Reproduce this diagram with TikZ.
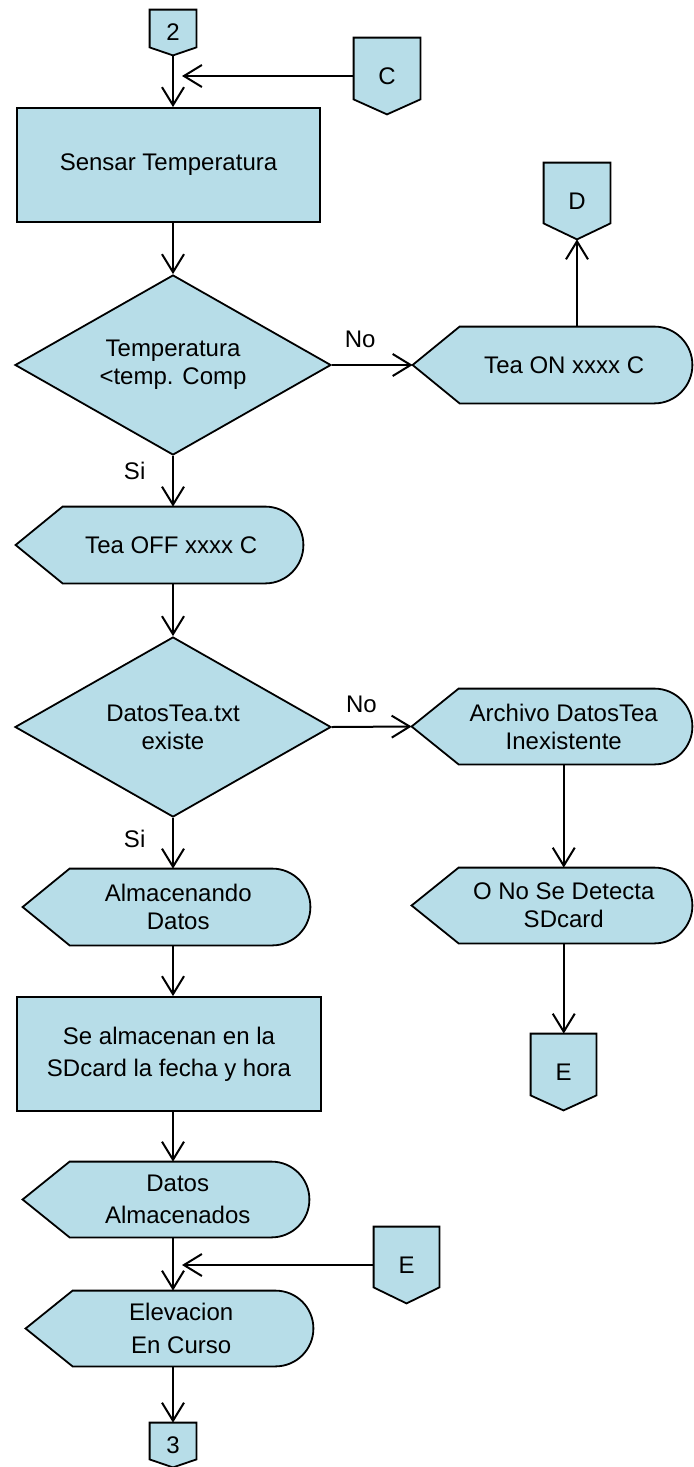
\documentclass[tikz,border=0pt]{standalone}
\usepackage{fontspec}
\setmainfont{Liberation Sans}
\usetikzlibrary{positioning, shapes.geometric, arrows.meta, backgrounds}
\definecolor{flowblue}{RGB}{183,221,232}
\tikzset{shapeline/.style={draw=black, line width=0.9pt, fill=flowblue}}
\tikzset{procbox/.style={shapeline, rectangle, align=center, inner sep=0pt}}
\tikzset{decide/.style={shapeline, diamond, aspect=1.75, align=center, inner sep=0pt, minimum width=158pt, minimum height=90pt}}
\tikzset{disp/.style={rectangle, align=center, inner sep=0pt, minimum width=131.75pt, minimum height=38pt}}
\tikzset{offpage/.style={rectangle, inner sep=0pt, minimum width=33pt, minimum height=38pt}}
\tikzset{arr/.style={draw, -{Straight Barb[length=9pt, width=11pt]}, line width=1pt}}
% outline of a display symbol round a node
\newcommand{\dispoutline}[1]{%
  \filldraw[shapeline] ([xshift=-11.75pt]#1.west) coordinate (#1-tip)
    -- ([xshift=11.75pt]#1.north west) -- ([xshift=-19pt]#1.north east)
    .. controls ([xshift=-8.5pt]#1.north east) and ([yshift=10.5pt]#1.east) .. (#1.east)
    .. controls ([yshift=-10.5pt]#1.east) and ([xshift=-8.5pt]#1.south east) .. ([xshift=-19pt]#1.south east)
    -- ([xshift=11.75pt]#1.south west) -- cycle;}
% outline of an off-page connector round a node
\newcommand{\offoutline}[2]{%
  \filldraw[shapeline] (#1.north west) -- (#1.north east) -- ([yshift=#2]#1.south east)
    -- (#1.south) -- ([yshift=#2]#1.south west) -- cycle;}

\begin{document}
\begin{tikzpicture}[x=0.5pt, y=-0.5pt, font=\fontsize{12}{14}\selectfont]
	\useasboundingbox (0,0) rectangle (694,1467);
	% connectors
	\node[offpage, minimum width=23pt, minimum height=22.5pt] (in2) at (173,32.5) {2};
	\node[offpage] (inC) at (387,76) {C};
	\node[offpage] (outD) at (577,201) {D};
	\node[offpage, minimum width=32.5pt] (outE) at (563.5,1072) {E};
	\node[offpage, minimum width=32.5pt] (inE) at (406.5,1265) {E};
	\node[offpage, minimum width=23pt, minimum height=22pt] (out3) at (173,1445) {3};
	%
	\node[procbox, minimum width=151.5pt, minimum height=57pt] (sensar) at (168.5,165) {Sensar Temperatura};
	\node[decide] (tempcmp) at (173,365) {Temperatura\\<temp. Comp};
	\node[disp, minimum width=127.75pt] (teaon) at (564.25,365) {Tea ON xxxx C};
	\node[disp] (teaoff) at (171.25,545) {Tea OFF xxxx C};
	\node[decide] (fileok) at (173,727) {DatosTea.txt\\existe};
	\node[disp, minimum width=128.25pt, minimum height=37.5pt] (nofile) at (563.75,726.5) {Archivo DatosTea\\Inexistente};
	\node[disp, minimum width=128.25pt, minimum height=37.5pt] (nosd) at (563.75,905.5) {O No Se Detecta\\SDcard};
	\node[disp] (storing) at (178.25,907) {Almacenando\\Datos};
	\node[procbox, minimum width=152pt, minimum height=57pt] (savebox) at (169,1054) {Se almacenan en la\\[2pt]SDcard la fecha y hora};
	\node[disp, minimum width=131.25pt, minimum height=37.5pt] (stored) at (177.75,1199.5) {Datos\\[2pt]Almacenados};
	\node[disp, minimum height=37.5pt] (elev) at (181.25,1328.5) {Elevacion\\[2.5pt]En Curso};
	%
	\begin{scope}[on background layer]
		\foreach \n in {teaon, teaoff, nofile, nosd, storing, stored, elev} {\dispoutline{\n}}
		\foreach \n/\d in {in2/4pt, inC/7.5pt, outD/8pt, outE/7.5pt, inE/8pt, out3/4pt} {\offoutline{\n}{\d}}
	\end{scope}
	%
	\draw[arr] (in2.south) -- (in2.south |- sensar.north);
	\draw[arr, shorten >=4.5pt] (inC.west) -- (inC.west -| in2.south);
	\draw[arr] (tempcmp.north |- sensar.south) -- (tempcmp.north);
	\draw[arr] (tempcmp.east) -- node[pos=0.35, above=5pt] (no1) {No} (teaon-tip);
	\draw[arr] (outD.south |- teaon.north) -- (outD.south);
	\draw[arr] (tempcmp.south) -- node[pos=0.3, left=10pt] (si1) {Si} (tempcmp.south |- teaoff.north);
	\draw[arr] (fileok.north |- teaoff.south) -- (fileok.north);
	\draw[arr] (fileok.east) -- node[pos=0.37, above=3pt] (no2) {No} (nofile-tip);
	\draw[arr] (nofile.south) -- (nofile.south |- nosd.north);
	\draw[arr] (nosd.south) -- (nosd.south |- outE.north);
	\draw[arr] (fileok.south) -- node[pos=0.42, left=10pt] (si2) {Si} (fileok.south |- storing.north);
	\draw[arr] (in2 |- storing.south) -- (in2 |- savebox.north);
	\draw[arr] (in2 |- savebox.south) -- (in2 |- stored.north);
	\draw[arr] (in2 |- stored.south) -- (in2 |- elev.north);
	\draw[arr, shorten >=4.5pt] (inE.west) -- (inE.west -| in2.south);
	\draw[arr] (in2 |- elev.south) -- (out3.north);
\end{tikzpicture}
\end{document}
